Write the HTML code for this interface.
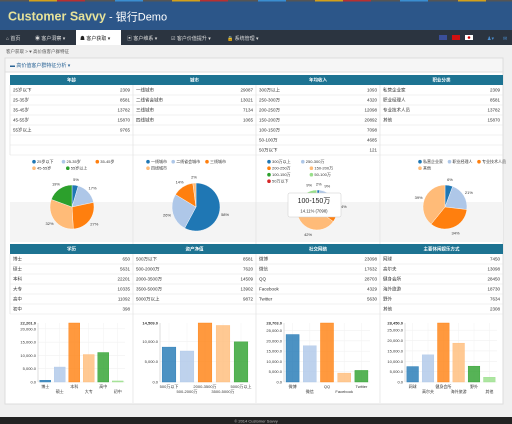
<!DOCTYPE html>
<html><head><meta charset="utf-8">
<style>
html,body{margin:0;padding:0;width:512px;height:424px;overflow:hidden;background:#f0f0f0;}
svg{display:block;font-family:"Liberation Sans","Noto Sans CJK SC",sans-serif;}
</style></head>
<body>
<svg id="s" width="512" height="424" xmlns="http://www.w3.org/2000/svg">
<rect x="0" y="0" width="512" height="30" fill="#2c5689"/>
<g>
<rect x="0" y="0" width="512" height="1.5" fill="#555"/>
<rect x="29" y="0" width="28" height="1.5" fill="#d4a019"/><rect x="57" y="0" width="28" height="1.5" fill="#b83030"/>
<rect x="115" y="0" width="28" height="1.5" fill="#3b8ed0"/><rect x="172" y="0" width="28" height="1.5" fill="#d4a019"/>
<rect x="200" y="0" width="28" height="1.5" fill="#b83030"/><rect x="258" y="0" width="28" height="1.5" fill="#3b8ed0"/>
<rect x="315" y="0" width="28" height="1.5" fill="#d4a019"/><rect x="343" y="0" width="28" height="1.5" fill="#b83030"/>
<rect x="400" y="0" width="28" height="1.5" fill="#3b8ed0"/><rect x="458" y="0" width="28" height="1.5" fill="#d4a019"/>
</g>
<text x="8" y="20.5" font-size="12.5" font-weight="bold" fill="#e6e29a">Customer Savvy<tspan fill="#fff" font-weight="normal" font-size="11"> - 银行Demo</tspan></text>
<rect x="0" y="30" width="512" height="15" fill="#2b3440"/>
<rect x="76" y="30" width="45" height="15" fill="#fff"/>
<g font-size="5" fill="#ddd">
<text x="6" y="40">⌂ 首页</text>
<text x="35" y="40">◉ 客户洞察 ▾</text>
<text x="80" y="40" fill="#222">☗ 客户获取 ▾</text>
<text x="127" y="40">▣ 客户维系 ▾</text>
<text x="171" y="40">☑ 客户价值提升 ▾</text>
<text x="227" y="40">🔒 系统管理 ▾</text>
</g>
<rect x="439" y="35" width="8" height="5" fill="#3a4f9a"/>
<rect x="452" y="35" width="8" height="5" fill="#d21010"/>
<rect x="465" y="35" width="8" height="5" fill="#fff"/>
<circle cx="469" cy="37.5" r="1.3" fill="#c00"/>
<text x="487" y="40" font-size="5" fill="#4a8ed0">♟▾</text>
<text x="503" y="40" font-size="5" fill="#4a8ed0">✉</text>
<text x="6" y="53" font-size="4.5" fill="#555">客户获取 &gt; ♥ 高价值客户群特征</text>
<rect x="5" y="58" width="498" height="346" fill="#fff" stroke="#ddd"/>
<rect x="5" y="58" width="498" height="14" fill="#f6f6f6" stroke="#ddd"/>
<text x="10" y="67" font-size="5" fill="#2a6496">▬ 高价值客户群特征分析 ▾</text>
<rect x="10" y="202" width="493" height="40" fill="#f4f4f4"/>
<g id="content"></g>
<rect x="0" y="417" width="512" height="7" fill="#222"/>
<text x="256" y="422.5" font-size="4" fill="#bbb" text-anchor="middle">© 2014 Customer Savvy</text>
</svg>
<script>
const pieAgeLabels=["25岁以下","25-35岁","35-45岁","45-55岁","55岁以上"];
const pieAgeValues=[2309,8581,13782,15870,9765];
const pieCityLabels=["一线城市","二线省会城市","三线城市","四线城市"];
const pieCityValues=[29087,13021,7134,1065];
const pieIncomeLabels=["300万以上","250-300万","200-250万","150-200万","100-150万","50-100万","50万以下"];
const pieIncomeValues=[1093,4320,12098,20892,7098,4685,121];
const pieJobLabels=["私营企业家","职业经理人","专业技术人员","其他"];
const pieJobValues=[2309,8581,13782,15870];
const barEduLabels=["博士","硕士","本科","大专","高中","初中"];
const barEduValues=[650,5631,22201,10335,11092,398];
const barAssetLabels=["500万以下","500-2000万","2000-3500万","3500-5000万","5000万以上"];
const barAssetValues=[8581,7620,14509,13902,9872];
const barSocialLabels=["微博","微信","QQ","Facebook","Twitter"];
const barSocialValues=[23098,17632,28703,4329,5630];
const barSportLabels=["网球","高尔夫","健身会所","海外旅游","野外","其他"];
const barSportValues=[7450,13098,28450,18730,7634,2308];
const table1Titles=["年龄","城市","年均收入","职业分类"];
const table2Titles=["学历","资产净值","社交网络","主要休闲娱乐方式"];

const C=["#1f77b4","#aec7e8","#ff7f0e","#ffbb78","#2ca02c","#98df8a","#d62728"];
const NS="http://www.w3.org/2000/svg";
const root=document.getElementById('content');
function el(t,a,p){const e=document.createElementNS(NS,t);for(const k in a)e.setAttribute(k,a[k]);(p||root).appendChild(e);return e;}
function txt(x,y,s,a,p){const e=el('text',Object.assign({x:x,y:y,'font-size':4.5,fill:'#333'},a||{}),p);e.textContent=s;return e;}
const colX=[10,133,256,380,503];

function table(y0,titles,lists,nrows,name){
  const g=el('g',{});
  
  
  el('rect',{x:10,y:y0,width:493,height:10,fill:'#1d7392'},g);
  for(let c=0;c<4;c++){
    const t=txt((colX[c]+colX[c+1])/2,y0+6.7,titles[c],{fill:'#fff','text-anchor':'middle','font-weight':'bold'},g);
    
    
    el('line',{x1:colX[c+1],y1:y0+10,x2:colX[c+1],y2:y0+10+nrows*10,stroke:'#ddd','stroke-width':0.6},g);
    const [labs,vals]=lists[c];
    for(let r=0;r<labs.length;r++){
      const ty=y0+10+r*10+6.5;
      const a=txt(colX[c]+3,ty,labs[r],{},g);
      
      
      const b=txt(colX[c+1]-3,ty,String(vals[r]),{'text-anchor':'end'},g);
      
      
    }
  }
  for(let r=1;r<=nrows;r++) el('line',{x1:10,y1:y0+10+r*10,x2:503,y2:y0+10+r*10,stroke:'#e4e4e4','stroke-width':0.6},g);
  el('line',{x1:10,y1:y0+10,x2:10,y2:y0+10+nrows*10,stroke:'#ddd','stroke-width':0.6},g);
}
table(75,table1Titles,[[pieAgeLabels,pieAgeValues],[pieCityLabels,pieCityValues],[pieIncomeLabels,pieIncomeValues],[pieJobLabels,pieJobValues]],7,'table-demographics');
table(244,table2Titles,[[barEduLabels,barEduValues],[barAssetLabels,barAssetValues],[barSocialLabels,barSocialValues],[barSportLabels,barSportValues]],6,'table-lifestyle');
for(let c=1;c<4;c++) el('line',{x1:colX[c],y1:155,x2:colX[c],y2:244,stroke:'#ddd','stroke-width':0.6});
for(let c=1;c<4;c++) el('line',{x1:colX[c],y1:314,x2:colX[c],y2:403,stroke:'#ddd','stroke-width':0.6});

function pie(cx,cy,r,labels,vals,lx,name){
  const g=el('g',{});
  
  
  let x=lx,y=163;
  labels.forEach((l,i)=>{
    const w=l.length*4.3+8;
    if(x+w>lx+100){x=lx;y+=6.5;}
    el('circle',{cx:x+2,cy:y-1.3,r:1.8,fill:C[i]},g);
    const t=txt(x+5,y,l,{'font-size':4},g);
    
    
    x+=w;
  });
  const tot=vals.reduce((a,b)=>a+b,0);
  let a0=-Math.PI/2;
  vals.forEach((v,i)=>{
    const a1=a0+v/tot*2*Math.PI;
    const large=(a1-a0)>Math.PI?1:0;
    const p=el('path',{d:`M${cx},${cy}L${cx+r*Math.cos(a0)},${cy+r*Math.sin(a0)}A${r},${r} 0 ${large} 1 ${cx+r*Math.cos(a1)},${cy+r*Math.sin(a1)}Z`,fill:C[i],stroke:'#fff','stroke-width':0.4},g);
    
    
    const m=(a0+a1)/2;
    const pct=Math.round(v/tot*100);
    if(pct>=1){
      const t=txt(cx+(r+6)*Math.cos(m),cy+(r+6)*Math.sin(m)+1.5,pct+'%',{'font-size':4,'text-anchor':'middle'},g);
      
      
    }
    a0=a1;
  });
}
pie(72,207,22,pieAgeLabels,pieAgeValues,32,'pie-age');
pie(196,207,24,pieCityLabels,pieCityValues,146,'pie-city');
pie(317,210,20,pieIncomeLabels,pieIncomeValues,267,'pie-income');
pie(445,207,22,pieJobLabels,pieJobValues,418,'pie-job');
const tt=el('g',{});


el('rect',{x:288,y:193,width:53,height:24,fill:'#fff',stroke:'#ccc','stroke-width':0.5,rx:1.5},tt);
txt(314,203,'100-150万',{'font-size':7,'text-anchor':'middle','fill':'#222'},tt);
txt(314,212.5,'14.11% (7098)',{'font-size':4.2,'text-anchor':'middle'},tt);

function bars(x0,x1,labels,vals,step,name){
  const g=el('g',{});
  
  
  const yb=382,yt=323;
  const mx=Math.max(...vals);
  const Y=v=>yb-(v/mx)*(yb-yt);
  for(let t=0;t<mx;t+=step){
    el('line',{x1:x0,y1:Y(t),x2:x1,y2:Y(t),stroke:'#eee','stroke-width':0.5},g);
    const l=txt(x0-2,Y(t)+1.5,t.toLocaleString('en-US')+'.0',{'font-size':4,'text-anchor':'end'},g);
    
    
  }
  const l=txt(x0-2,Y(mx)+1.5,mx.toLocaleString('en-US')+'.0',{'font-size':4,'text-anchor':'end','font-weight':'bold'},g);
  
  
  el('line',{x1:x0,y1:yt,x2:x0,y2:yb,stroke:'#bbb','stroke-width':0.5},g);
  const bw=(x1-x0)/labels.length;
  vals.forEach((v,i)=>{
    const bx=x0+i*bw+bw*0.12;
    el('line',{x1:x0+i*bw+bw/2,y1:yt,x2:x0+i*bw+bw/2,y2:yb,stroke:'#f2f2f2','stroke-width':0.5},g);
    const b=el('rect',{x:bx,y:Y(v),width:bw*0.76,height:yb-Y(v),fill:C[i],'fill-opacity':0.8,stroke:C[i],'stroke-width':0.4},g);
    
    
    const t=txt(x0+i*bw+bw/2,i%2?393:388,labels[i],{'font-size':4,'text-anchor':'middle'},g);
    
    
  });
}
bars(38,125,barEduLabels,barEduValues,5000,'bar-chart-education');
bars(160,250,barAssetLabels,barAssetValues,5000,'bar-chart-assets');
bars(284,370,barSocialLabels,barSocialValues,5000,'bar-chart-social');
bars(405,497,barSportLabels,barSportValues,5000,'bar-chart-leisure');
</script>
</body></html>
